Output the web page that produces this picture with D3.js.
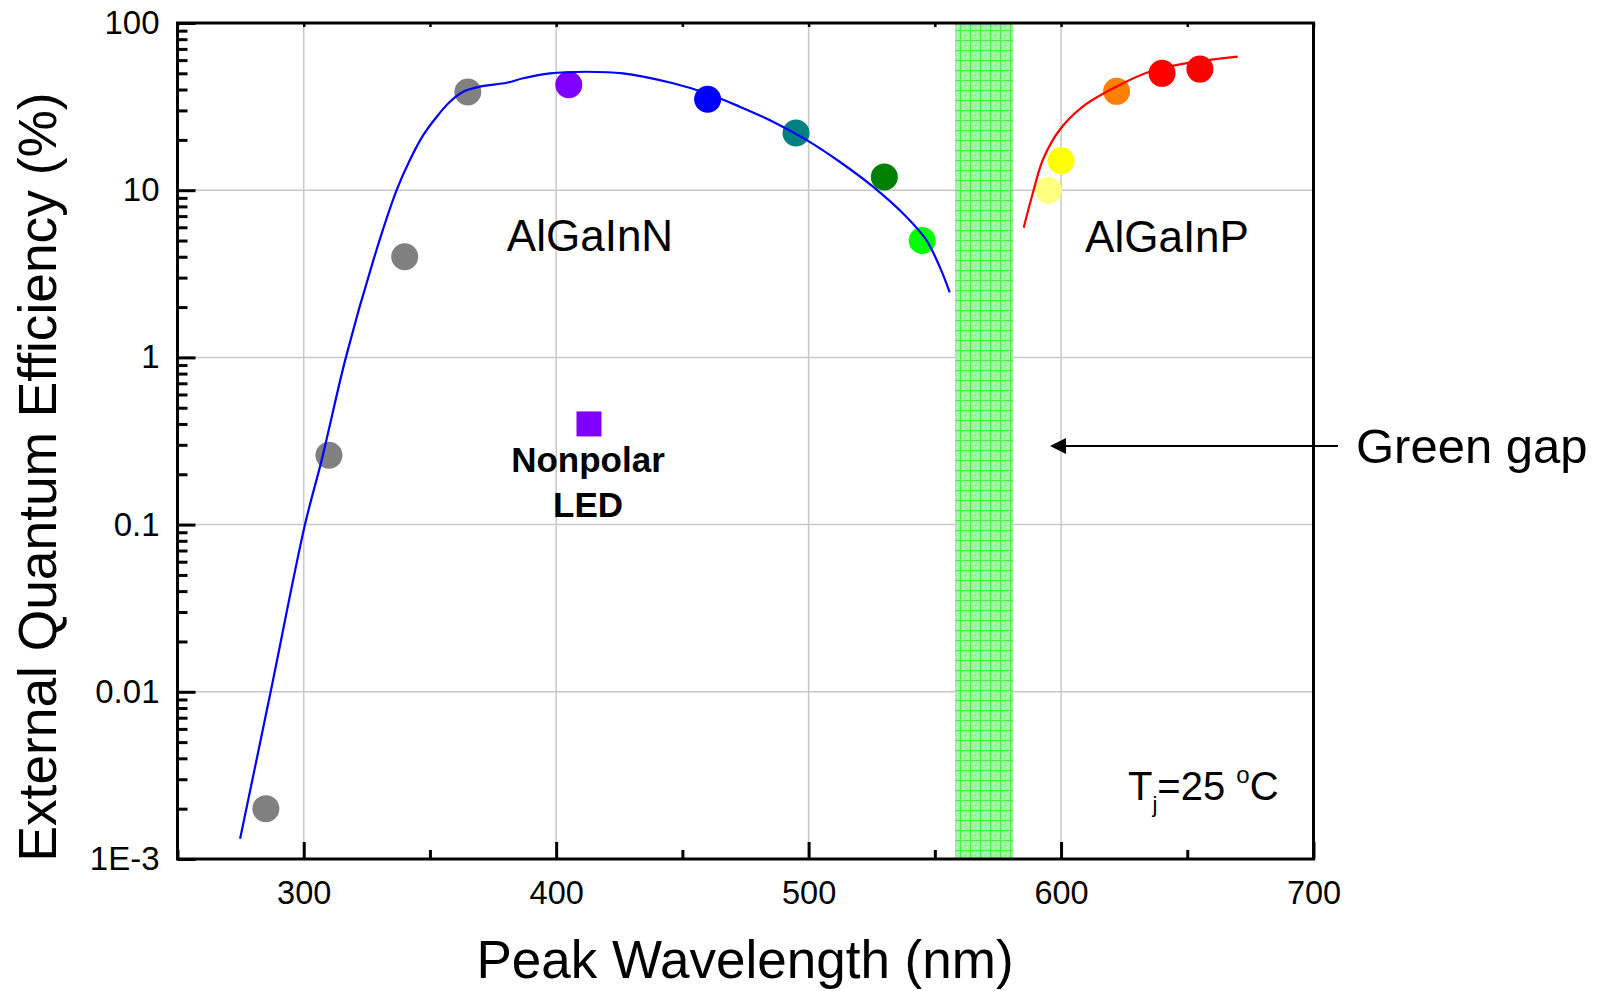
<!DOCTYPE html>
<html>
<head>
<meta charset="utf-8">
<script src="https://cdn.jsdelivr.net/npm/d3@7"></script>
<style>
  html, body { margin: 0; padding: 0; background: #fff; }
  svg { display: block; font-family: "Liberation Sans", Arial, sans-serif; }
</style>
</head>
<body>
<svg id="chart" width="1602" height="991"></svg>
<script>
// ---------------- data ----------------
const algainnWavelength = [285, 310, 340, 365, 405, 460, 495, 530, 545];
const algainnEQE        = [0.002, 0.26, 4, 38.7, 42.7, 35, 22, 12, 5];
const algainnColors     = ['#808080','#808080','#808080','#808080','#8000ff','#0000ff','#008080','#008000','#00ff00'];

const algainpWavelength = [595, 600, 622, 640, 655];
const algainpEQE        = [10, 15, 39, 50, 53];
const algainpColors     = ['#ffff80','#ffff00','#ff8000','#ff0000','#ff0000'];

const nonpolarWavelength = [413];
const nonpolarEQE        = [0.40];

const blueFitWavelength = [274.8, 286.9, 300.5, 307.1, 316.7, 327.6, 336.8, 342.1, 347.4, 352.7, 357.9, 363.2, 369.8, 380.4, 386.9, 397.5, 412.0, 426.5, 446.3, 459.5, 472.7, 485.9, 499.1, 512.3, 525.5, 538.7, 546.6, 551.9, 555.9];
const blueFitEQE        = [0.00132, 0.01, 0.1, 0.243, 1.0, 3.82, 10, 15.2, 21.4, 27.5, 33.8, 38.8, 41.6, 43.9, 46.7, 50.0, 51.1, 50.0, 43.6, 38.0, 31.6, 25.7, 20.0, 14.8, 10.5, 6.94, 5.04, 3.49, 2.45];

const redFitWavelength = [585.2, 588.8, 592.8, 599.4, 608.6, 621.9, 635.0, 648.2, 670.0];
const redFitEQE        = [5.97, 9.58, 15.2, 22.9, 31.6, 41.6, 51.1, 56.9, 62.9];

const greenGapRange = [558, 581];

const xMajorTicks = [300, 400, 500, 600, 700];
const xMajorLabels = ['300', '400', '500', '600', '700'];
const xMinorTicks = [250, 350, 450, 550, 650];
const yMajorTicks = [100, 10, 1, 0.1, 0.01, 0.001];
const yMajorLabels = ['100', '10', '1', '0.1', '0.01', '1E-3'];
const yMinorFactors = [2, 3, 4, 5, 6, 7, 8, 9];

// ---------------- scales ----------------
const svg = d3.select('#chart');
const x = d3.scaleLinear().domain([250, 700]).range([177.5, 1313.5]);
const y = d3.scaleLog().domain([0.001, 100]).range([859, 23]);

const yMinorTicks = [];
[0.001, 0.01, 0.1, 1, 10].forEach(d => yMinorFactors.forEach(f => yMinorTicks.push(d * f)));

// pattern for green gap band
const defs = svg.append('defs');
const pat = defs.append('pattern').attr('id', 'gapPat')
  .attr('patternUnits', 'userSpaceOnUse').attr('width', 10).attr('height', 10);
pat.append('rect').attr('width', 10).attr('height', 10).attr('fill', '#9ff59f');
pat.append('rect').attr('x', 0).attr('y', 0).attr('width', 10).attr('height', 1.2).attr('fill', '#4fec4f');
pat.append('rect').attr('x', 0).attr('y', 0).attr('width', 1.2).attr('height', 10).attr('fill', '#4fec4f');
pat.append('rect').attr('x', 3).attr('y', 3).attr('width', 1).attr('height', 1).attr('fill', '#c8fac8');
pat.append('rect').attr('x', 7).attr('y', 7).attr('width', 1).attr('height', 1).attr('fill', '#c8fac8');
pat.append('rect').attr('x', 5).attr('y', 5).attr('width', 1).attr('height', 1).attr('fill', '#6fef6f');

// ---------------- grid ----------------
const grid = svg.append('g');
grid.selectAll('line.gx').data(xMajorTicks.filter(d => d < 700)).join('line')
  .attr('x1', d => x(d)).attr('x2', d => x(d)).attr('y1', y(100)).attr('y2', y(0.001))
  .attr('stroke', '#c8c8c8').attr('stroke-width', 1.5);
grid.selectAll('line.gy').data(yMajorTicks.filter(d => d !== 100 && d !== 0.001)).join('line')
  .attr('x1', x(250)).attr('x2', x(700)).attr('y1', d => y(d)).attr('y2', d => y(d))
  .attr('stroke', '#c8c8c8').attr('stroke-width', 1.5);

// green gap band
svg.append('rect')
  .attr('x', x(greenGapRange[0])).attr('y', y(100))
  .attr('width', x(greenGapRange[1]) - x(greenGapRange[0]))
  .attr('height', y(0.001) - y(100))
  .attr('fill', 'url(#gapPat)');

// ---------------- points ----------------
svg.append('g').selectAll('circle').data(algainnWavelength).join('circle')
  .attr('cx', (d, i) => x(d)).attr('cy', (d, i) => y(algainnEQE[i]))
  .attr('r', 13.5).attr('fill', (d, i) => algainnColors[i]);
svg.append('g').selectAll('circle').data(algainpWavelength).join('circle')
  .attr('cx', (d, i) => x(d)).attr('cy', (d, i) => y(algainpEQE[i]))
  .attr('r', 13.5).attr('fill', (d, i) => algainpColors[i]);
svg.append('g').selectAll('rect').data(nonpolarWavelength).join('rect')
  .attr('x', (d) => x(d) - 12.5).attr('y', (d, i) => y(nonpolarEQE[i]) - 12.5)
  .attr('width', 25).attr('height', 25).attr('fill', '#8000ff');

// ---------------- fit curves ----------------
const line = d3.line().x(d => x(d[0])).y(d => y(d[1])).curve(d3.curveCatmullRom.alpha(0.5));
svg.append('path').datum(blueFitWavelength.map((w, i) => [w, blueFitEQE[i]]))
  .attr('d', line).attr('fill', 'none').attr('stroke', '#0000ff').attr('stroke-width', 2.2);
svg.append('path').datum(redFitWavelength.map((w, i) => [w, redFitEQE[i]]))
  .attr('d', line).attr('fill', 'none').attr('stroke', '#ff0000').attr('stroke-width', 2.2);

// ---------------- axes ----------------
function styleAxis(g, sw, fs) {
  g.select('.domain').remove();
  g.selectAll('.tick line').attr('stroke', '#000').attr('stroke-width', sw);
  g.selectAll('.tick text').attr('font-size', fs).attr('fill', '#000')
    .attr('font-family', '"Liberation Sans", Arial, sans-serif');
}
// bottom
const gxB = svg.append('g').attr('transform', `translate(0,${y(0.001)})`)
  .call(d3.axisBottom(x).tickValues(xMajorTicks).tickFormat((d, i) => xMajorLabels[i]).tickSize(-17).tickPadding(22));
styleAxis(gxB, 3, 32.5);
const gxBm = svg.append('g').attr('transform', `translate(0,${y(0.001)})`)
  .call(d3.axisBottom(x).tickValues(xMinorTicks).tickFormat('').tickSize(-9));
styleAxis(gxBm, 3, 32);
// top
const gxT = svg.append('g').attr('transform', `translate(0,${y(100)})`)
  .call(d3.axisTop(x).tickValues(xMajorTicks.concat(xMinorTicks)).tickFormat('').tickSize(-4));
styleAxis(gxT, 2.5, 32);
// left
const gyL = svg.append('g').attr('transform', `translate(${x(250)},0)`)
  .call(d3.axisLeft(y).tickValues(yMajorTicks).tickFormat((d, i) => yMajorLabels[i]).tickSize(-18).tickPadding(18));
styleAxis(gyL, 3, 33);
const gyLm = svg.append('g').attr('transform', `translate(${x(250)},0)`)
  .call(d3.axisLeft(y).tickValues(yMinorTicks).tickFormat('').tickSize(-10));
styleAxis(gyLm, 3, 32);

// frame
svg.append('rect').attr('x', x(250)).attr('y', y(100))
  .attr('width', x(700) - x(250)).attr('height', y(0.001) - y(100))
  .attr('fill', 'none').attr('stroke', '#000').attr('stroke-width', 3);

// ---------------- labels ----------------
svg.append('text').attr('x', 745).attr('y', 978).attr('text-anchor', 'middle')
  .attr('font-size', 53).text('Peak Wavelength (nm)');
svg.append('text').attr('transform', 'translate(56,477) rotate(-90)').attr('text-anchor', 'middle')
  .attr('font-size', 53.3).text('External Quantum Efficiency (%)');

svg.append('text').attr('x', 590).attr('y', 251).attr('text-anchor', 'middle')
  .attr('font-size', 44).text('AlGaInN');
svg.append('text').attr('x', 1167).attr('y', 252).attr('text-anchor', 'middle')
  .attr('font-size', 44).text('AlGaInP');

svg.append('text').attr('x', 588).attr('y', 472).attr('text-anchor', 'middle')
  .attr('font-size', 35).attr('font-weight', 'bold').text('Nonpolar');
svg.append('text').attr('x', 588).attr('y', 517).attr('text-anchor', 'middle')
  .attr('font-size', 35).attr('font-weight', 'bold').text('LED');

// Tj label
const tj = svg.append('text').attr('x', 1128).attr('y', 800).attr('font-size', 40);
tj.append('tspan').text('T');
tj.append('tspan').attr('font-size', 22).attr('dy', 12).text('j');
tj.append('tspan').attr('dy', -12).text('=25 ');
tj.append('tspan').attr('font-size', 24).attr('dy', -17).text('o');
tj.append('tspan').attr('dy', 17).text('C');

// Green gap arrow
const arrowY = 446;
svg.append('line').attr('x1', 1338).attr('x2', 1062).attr('y1', arrowY).attr('y2', arrowY)
  .attr('stroke', '#000').attr('stroke-width', 2);
svg.append('path')
  .attr('d', `M1050,${arrowY} L1066,${arrowY - 8} L1066,${arrowY + 8} Z`).attr('fill', '#000');
svg.append('text').attr('x', 1356).attr('y', arrowY + 17).attr('font-size', 49).text('Green gap');
</script>
</body>
</html>
